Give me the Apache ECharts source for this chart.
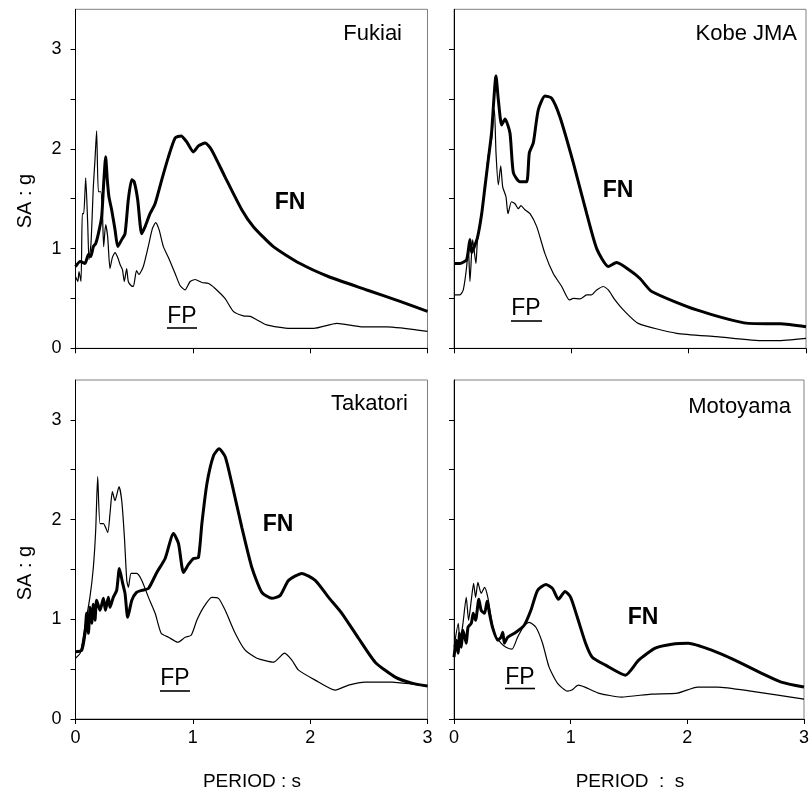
<!DOCTYPE html>
<html><head><meta charset="utf-8">
<script src="https://cdn.jsdelivr.net/npm/echarts@6/dist/echarts.min.js"></script>
<style>html,body{margin:0;padding:0;background:#fff}#c{width:812px;height:795px}</style>
</head><body><div id="c"></div><script>
// ---- data: [period (s), SA (g)] ----
var stations = ['Fukiai', 'Kobe JMA', 'Takatori', 'Motoyama'];
var xTicks = [0, 1, 2, 3];
var yTicks = [0, 1, 2, 3];
var yMinorTicks = [0, 0.5, 1, 1.5, 2, 2.5, 3];

var fukiaiFN = [[0,0.82],[0.04,0.87],[0.081,0.85],[0.11,0.94],[0.13,0.92],[0.152,1.02],[0.172,1.05],[0.195,1.15],[0.223,1.32],[0.24,1.65],[0.257,1.92],[0.271,1.69],[0.285,1.52],[0.308,1.39],[0.337,1.19],[0.36,1.02],[0.394,1.09],[0.422,1.15],[0.45,1.49],[0.479,1.69],[0.5,1.67],[0.53,1.49],[0.564,1.15],[0.593,1.22],[0.635,1.35],[0.678,1.45],[0.735,1.69],[0.792,1.92],[0.849,2.11],[0.9,2.13],[0.948,2.07],[1.005,1.97],[1.048,2.03],[1.105,2.06],[1.16,1.99],[1.274,1.72],[1.417,1.39],[1.516,1.22],[1.686,1.02],[1.914,0.85],[2.155,0.72],[2.483,0.585],[2.766,0.47],[3.0,0.37]];
var fukiaiFP = [[0,0.72],[0.02,0.67],[0.03,0.77],[0.047,0.67],[0.058,1.35],[0.07,1.35],[0.087,1.71],[0.104,1.25],[0.115,0.89],[0.132,1.05],[0.152,1.62],[0.166,1.89],[0.18,2.18],[0.195,1.57],[0.215,1.57],[0.229,1.39],[0.24,1.02],[0.257,1.24],[0.274,1.12],[0.294,0.80],[0.314,0.91],[0.337,0.96],[0.36,0.91],[0.38,0.84],[0.4,0.79],[0.416,0.67],[0.436,0.80],[0.45,0.67],[0.473,0.63],[0.493,0.62],[0.52,0.78],[0.54,0.74],[0.578,0.82],[0.62,1.02],[0.655,1.20],[0.683,1.26],[0.712,1.19],[0.749,1.02],[0.792,0.91],[0.849,0.75],[0.891,0.63],[0.934,0.585],[0.977,0.67],[1.02,0.69],[1.077,0.66],[1.134,0.65],[1.19,0.60],[1.274,0.50],[1.345,0.37],[1.43,0.325],[1.49,0.32],[1.63,0.235],[1.829,0.20],[2.03,0.20],[2.227,0.25],[2.45,0.215],[2.65,0.215],[3.0,0.17]];

var kobeFN = [[0,0.85],[0.051,0.85],[0.108,0.89],[0.136,1.09],[0.15,0.96],[0.17,1.01],[0.2,1.11],[0.236,1.35],[0.264,1.62],[0.292,1.89],[0.32,2.16],[0.358,2.73],[0.378,2.49],[0.406,2.24],[0.435,2.30],[0.477,2.16],[0.506,1.76],[0.562,1.67],[0.619,1.67],[0.642,1.96],[0.676,2.06],[0.718,2.39],[0.775,2.53],[0.832,2.51],[0.903,2.32],[1.017,1.86],[1.131,1.35],[1.216,1.00],[1.315,0.82],[1.386,0.86],[1.5,0.78],[1.585,0.70],[1.685,0.57],[2.068,0.385],[2.508,0.25],[2.78,0.245],[3.0,0.217]];
var kobeFP = [[0,0.535],[0.05,0.535],[0.079,0.585],[0.108,0.82],[0.122,1.02],[0.136,0.67],[0.159,1.09],[0.187,0.85],[0.2,1.09],[0.23,1.32],[0.264,1.62],[0.29,1.92],[0.32,2.09],[0.335,2.32],[0.345,2.39],[0.358,1.96],[0.378,1.64],[0.398,1.83],[0.415,1.62],[0.443,1.52],[0.46,1.35],[0.49,1.47],[0.52,1.45],[0.548,1.40],[0.57,1.43],[0.605,1.39],[0.648,1.35],[0.705,1.22],[0.775,0.95],[0.846,0.75],[0.918,0.62],[0.983,0.485],[1.017,0.50],[1.074,0.495],[1.131,0.535],[1.17,0.535],[1.216,0.585],[1.273,0.62],[1.315,0.585],[1.372,0.485],[1.443,0.385],[1.57,0.25],[1.898,0.15],[2.24,0.117],[2.64,0.076],[2.75,0.076],[3.0,0.10]];

var takatoriFN = [[0,0.675],[0.053,0.69],[0.081,0.86],[0.095,1.06],[0.11,0.86],[0.124,1.12],[0.138,0.96],[0.152,1.15],[0.166,0.99],[0.18,1.19],[0.209,1.09],[0.238,1.21],[0.255,1.09],[0.28,1.22],[0.294,1.12],[0.322,1.22],[0.351,1.29],[0.374,1.51],[0.402,1.36],[0.422,1.26],[0.445,1.02],[0.48,1.19],[0.52,1.27],[0.565,1.29],[0.622,1.31],[0.693,1.47],[0.764,1.61],[0.835,1.86],[0.878,1.76],[0.92,1.47],[0.963,1.55],[1.006,1.61],[1.048,1.62],[1.077,1.96],[1.12,2.36],[1.176,2.64],[1.224,2.71],[1.276,2.63],[1.333,2.36],[1.418,1.92],[1.503,1.52],[1.588,1.27],[1.674,1.21],[1.745,1.24],[1.816,1.39],[1.929,1.46],[2.043,1.39],[2.157,1.22],[2.27,1.06],[2.412,0.81],[2.554,0.57],[2.725,0.42],[2.867,0.36],[3.0,0.33]];
var takatoriFP = [[0,0.61],[0.04,0.66],[0.081,0.93],[0.124,1.23],[0.152,1.52],[0.172,1.89],[0.189,2.43],[0.209,1.96],[0.238,1.96],[0.275,1.87],[0.294,2.06],[0.314,2.28],[0.337,2.19],[0.371,2.33],[0.394,2.19],[0.417,1.82],[0.437,1.39],[0.451,1.32],[0.474,1.46],[0.522,1.46],[0.565,1.39],[0.622,1.22],[0.679,1.06],[0.73,0.86],[0.793,0.82],[0.872,0.77],[0.935,0.82],[0.986,0.84],[1.034,0.99],[1.091,1.12],[1.162,1.22],[1.219,1.21],[1.276,1.09],[1.361,0.86],[1.446,0.69],[1.546,0.61],[1.688,0.57],[1.782,0.66],[1.844,0.59],[1.901,0.49],[2.043,0.39],[2.213,0.29],[2.327,0.34],[2.469,0.37],[2.696,0.37],[2.867,0.35],[3.0,0.33]];

var motoyamaFN = [[0,0.62],[0.02,0.79],[0.035,0.66],[0.048,0.86],[0.062,0.72],[0.077,0.89],[0.105,0.76],[0.12,0.92],[0.148,0.96],[0.165,1.06],[0.185,0.99],[0.213,1.20],[0.233,1.09],[0.262,1.06],[0.284,1.18],[0.304,1.06],[0.33,0.92],[0.375,0.79],[0.403,0.82],[0.418,0.87],[0.432,0.76],[0.46,0.82],[0.531,0.87],[0.602,0.94],[0.659,1.09],[0.716,1.29],[0.787,1.35],[0.844,1.31],[0.895,1.20],[0.952,1.28],[1.0,1.22],[1.057,1.02],[1.128,0.76],[1.185,0.62],[1.299,0.54],[1.469,0.44],[1.583,0.59],[1.725,0.71],[1.867,0.75],[2.009,0.76],[2.208,0.69],[2.407,0.59],[2.634,0.46],[2.805,0.37],[3.0,0.32]];
var motoyamaFP = [[0,0.72],[0.037,0.96],[0.05,0.76],[0.077,0.96],[0.105,1.22],[0.125,0.99],[0.148,1.19],[0.168,1.36],[0.185,1.22],[0.205,1.37],[0.233,1.26],[0.262,1.32],[0.29,1.22],[0.318,1.02],[0.347,0.86],[0.403,0.76],[0.446,0.72],[0.497,0.70],[0.545,0.82],[0.602,0.94],[0.645,0.97],[0.702,0.92],[0.759,0.76],[0.815,0.52],[0.886,0.36],[0.972,0.28],[1.01,0.29],[1.065,0.34],[1.122,0.32],[1.236,0.26],[1.435,0.22],[1.69,0.25],[1.918,0.26],[2.088,0.32],[2.259,0.32],[2.543,0.28],[3.0,0.20]];

var fnData = [fukiaiFN, kobeFN, takatoriFN, motoyamaFN];
var fpData = [fukiaiFP, kobeFP, takatoriFP, motoyamaFP];

// ---- layout ----
var FONT = '"Liberation Sans", Arial, sans-serif';
var grids = [
  {left: 75.5, top: 9.3, width: 352, height: 339},
  {left: 454, top: 9.3, width: 352, height: 339},
  {left: 75.5, top: 380, width: 352, height: 339},
  {left: 454, top: 380, width: 352, height: 339}
];
var xAxes = [], yAxes = [], series = [];
grids.forEach(function (g, i) {
  g.show = true; g.borderColor = '#808080'; g.borderWidth = 1; g.containLabel = false;
  var bottomRow = i >= 2, leftCol = (i % 2 === 0);
  xAxes.push({
    gridIndex: i, type: 'value', min: 0, max: 3, interval: 1,
    axisLine: {show: true, lineStyle: {color: '#000', width: 1}},
    axisTick: {show: true, length: 5, lineStyle: {color: '#000'}},
    axisLabel: {show: bottomRow, fontSize: 18, color: '#000', fontFamily: FONT, margin: 10},
    splitLine: {show: false}
  });
  yAxes.push({
    gridIndex: i, type: 'value', min: 0, max: 3.4,
    axisLine: {show: true, lineStyle: {color: '#000', width: 1}},
    axisTick: {show: true, length: 5, customValues: yMinorTicks, lineStyle: {color: '#000'}},
    axisLabel: {show: leftCol, customValues: yTicks, fontSize: 18, color: '#000', fontFamily: FONT, margin: 14},
    splitLine: {show: false}
  });
  series.push({
    type: 'line', xAxisIndex: i, yAxisIndex: i, data: fpData[i], showSymbol: false,
    smooth: 0.2, lineStyle: {color: '#000', width: 1.2}, silent: true, z: 2
  });
  series.push({
    type: 'line', xAxisIndex: i, yAxisIndex: i, data: fnData[i], showSymbol: false,
    smooth: 0.2, lineStyle: {color: '#000', width: 3}, silent: true, z: 3
  });
});

function txt(x, y, s, opt) {
  opt = opt || {};
  return {
    type: 'text', x: x, y: y, rotation: opt.rot || 0, z: 10,
    style: {text: s, fill: '#000', font: (opt.weight || 'normal') + ' ' + (opt.size || 18) + 'px ' + FONT,
      textAlign: opt.align || 'center', textVerticalAlign: 'middle'}
  };
}
function uline(x1, x2, y) {
  return {type: 'line', z: 10, shape: {x1: x1, y1: y, x2: x2, y2: y}, style: {stroke: '#000', lineWidth: 1.6}};
}
var graphics = [
  txt(402, 34, stations[0], {size: 22, align: 'right'}),
  txt(797, 34, stations[1], {size: 22, align: 'right'}),
  txt(408, 404, stations[2], {size: 22, align: 'right'}),
  txt(791, 407, stations[3], {size: 22, align: 'right'}),
  txt(290, 203, 'FN', {size: 23, weight: 'bold'}),
  txt(618, 191, 'FN', {size: 23, weight: 'bold'}),
  txt(278, 525, 'FN', {size: 23, weight: 'bold'}),
  txt(643, 618, 'FN', {size: 23, weight: 'bold'}),
  txt(182, 317, 'FP', {size: 23}),
  txt(526, 309, 'FP', {size: 23}),
  txt(175, 679, 'FP', {size: 23}),
  txt(520, 678, 'FP', {size: 23}),
  uline(167, 197, 328),
  uline(511, 542, 321),
  uline(160, 190, 691),
  uline(505, 535, 688.5),
  txt(25, 201, 'SA : g', {size: 20, rot: Math.PI / 2}),
  txt(25, 573, 'SA : g', {size: 20, rot: Math.PI / 2}),
  txt(252, 782, 'PERIOD : s', {size: 19}),
  txt(630, 782, 'PERIOD  :  s', {size: 19})
];

var chart = echarts.init(document.getElementById('c'), null, {renderer: 'canvas'});
chart.setOption({
  animation: false,
  backgroundColor: '#fff',
  grid: grids, xAxis: xAxes, yAxis: yAxes, series: series,
  graphic: graphics
});
</script></body></html>
